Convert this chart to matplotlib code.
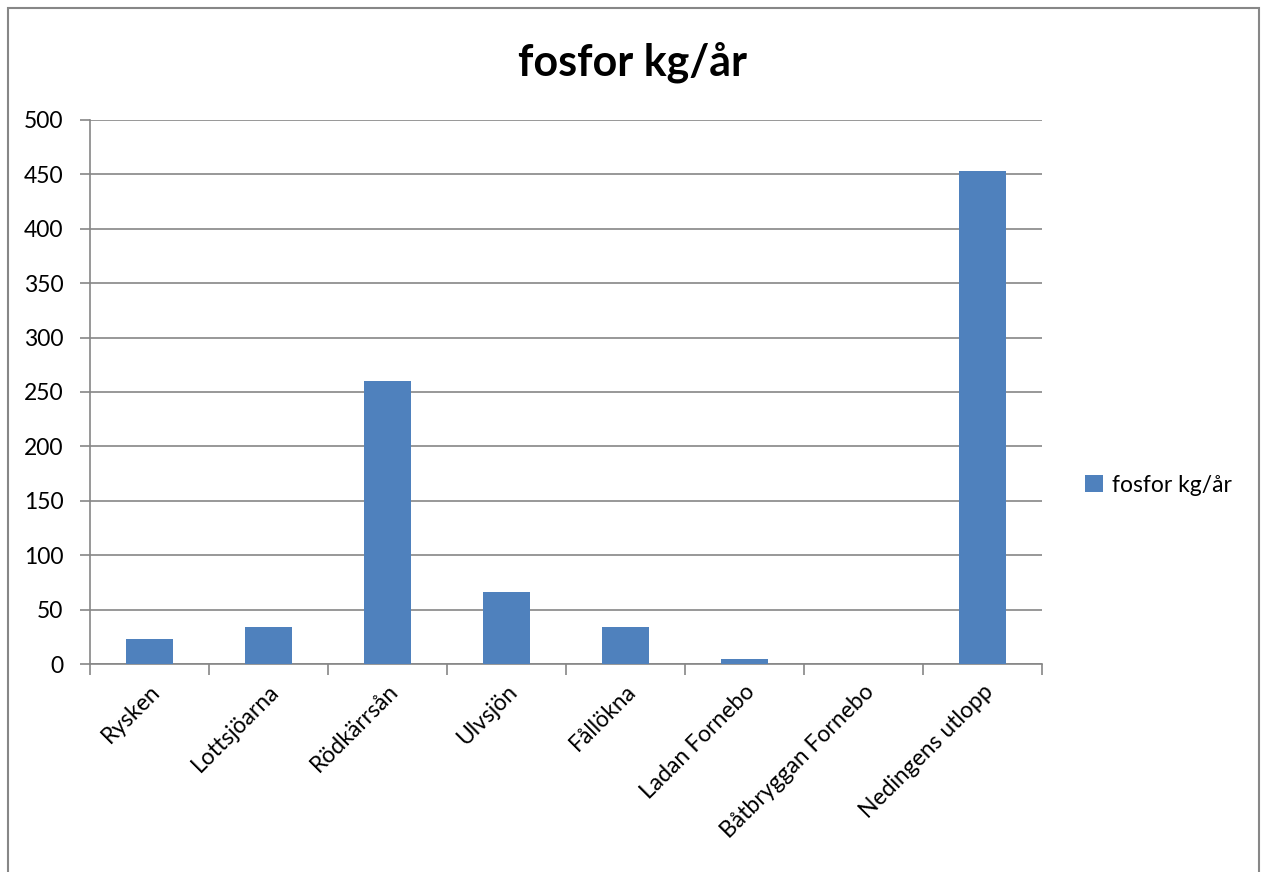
import matplotlib
matplotlib.use("Agg")
import matplotlib.pyplot as plt
from matplotlib.patches import Rectangle

plt.rcParams['font.family'] = ['Lato', 'DejaVu Sans']

categories = ["Rysken", "Lottsjöarna", "Rödkärrsån", "Ulvsjön", "Fållökna",
              "Ladan Fornebo", "Båtbryggan Fornebo", "Nedingens utlopp"]
values = [23, 34, 260, 66, 34, 5, 0, 453]
series_name = "fosfor kg/år"
yticks = [0, 50, 100, 150, 200, 250, 300, 350, 400, 450, 500]

fig = plt.figure(figsize=(12.61, 8.72), dpi=100)
fig.patches.append(Rectangle((8/1261, -0.01), (1259-8)/1261, (872-8)/872 + 0.01,
                             transform=fig.transFigure, fill=False,
                             edgecolor='#878787', linewidth=1.5))
ax = fig.add_axes([90/1261, 1-664/872, (1042-90)/1261, (664-120)/872])

x = list(range(len(categories)))
ax.bar(x, values, width=0.4, color='#4F81BD', label=series_name, zorder=3)
ax.set_xlim(-0.5, len(categories) - 0.5)
ax.set_ylim(0, 500)
ax.set_yticks(yticks)
ax.set_yticklabels([str(t) for t in yticks], fontsize=16.5)
ax.grid(axis='y', color='#868686', linewidth=1.2, zorder=0)
ax.set_xticks([i + 0.5 for i in range(-1, len(categories))], minor=False)
ax.set_xticklabels([])
ax.set_xticks(x, minor=True)
ax.set_xticklabels(categories, minor=True, rotation=45, ha='right',
                   rotation_mode='anchor', fontsize=16.5)
ax.tick_params(axis='x', which='minor', length=0, pad=12)
ax.tick_params(axis='x', which='major', length=8, color='#868686', width=1.2)
ax.tick_params(axis='y', length=7, color='#868686', width=1.2, pad=12)
for s in ['top', 'right']:
    ax.spines[s].set_visible(False)
for s in ['left', 'bottom']:
    ax.spines[s].set_color('#868686')
    ax.spines[s].set_linewidth(1.2)

fig.text(633/1261, 1-62/872, series_name, ha='center', va='center',
         fontsize=31, fontweight='bold')

leg = fig.legend(loc='center left', bbox_to_anchor=(1078/1261, 1-485/872),
                 frameon=False, fontsize=16.5, handlelength=0.8, handleheight=0.8,
                 handletextpad=0.4, borderaxespad=0, borderpad=0.3)

fig.savefig("out.png", dpi=100)
